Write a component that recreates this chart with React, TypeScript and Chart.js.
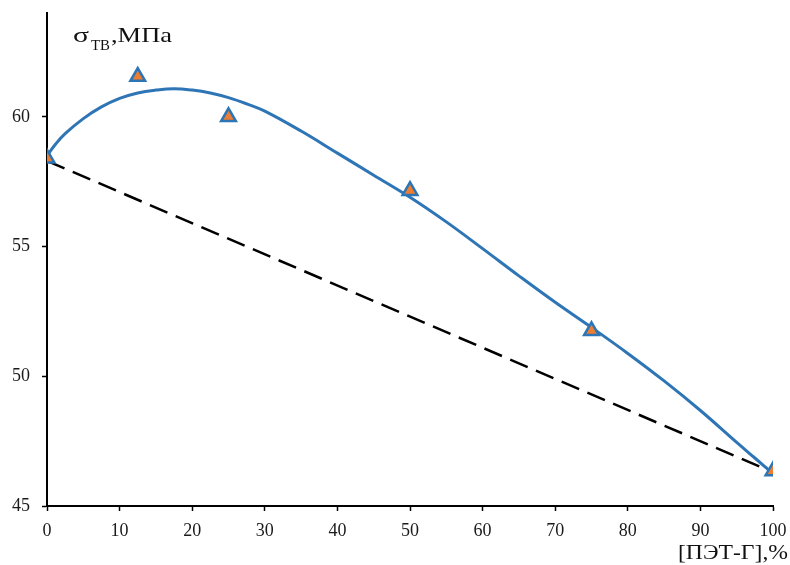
import React, { useEffect, useRef } from "react";
import { Chart, registerables } from "chart.js";

Chart.register(...registerables);

// Measured points: [ПЭТ-Г], % vs σ_тв, MPa
const measuredX = [0, 12.5, 25, 50, 75, 100];
const measuredY = [58.4, 61.55, 60.0, 57.15, 51.75, 46.35];

// Fitted trend curve
const curveX = [0, 1.25, 2.5, 5, 7.5, 10, 12.5, 15, 17.5, 20, 22.5, 25, 27.5, 30, 35, 40, 45, 50, 55, 60, 65, 70, 75, 80, 85, 90, 95, 97.5, 100];
const curveY = [58.5, 58.97, 59.35, 59.93, 60.38, 60.71, 60.92, 61.03, 61.08, 61.03, 60.92, 60.74, 60.5, 60.22, 59.45, 58.6, 57.75, 56.9, 55.95, 54.92, 53.87, 52.85, 51.88, 50.88, 49.82, 48.68, 47.45, 46.85, 46.25];

// Additivity (dashed) line
const additiveX = [0, 100];
const additiveY = [58.3, 46.3];

// Axis ticks
const xTicks = [0, 10, 20, 30, 40, 50, 60, 70, 80, 90, 100];
const yTicks = [45, 50, 55, 60];

const yTitleMain = "σ";
const yTitleSub = "ТВ";
const yTitleTail = ",МПа";
const xTitle = "[ПЭТ-Г],%";

const FONT = "'Liberation Serif', 'Times New Roman', serif";

function drawStretched(ctx: any, text: string, x: number, baseline: number, size: number, width: number) {
  ctx.font = `${size}px ${FONT}`;
  const w = ctx.measureText(text).width;
  const k = width / w;
  ctx.save();
  ctx.translate(x, baseline);
  ctx.scale(k, 1);
  ctx.fillText(text, 0, 0);
  ctx.restore();
}

const titlesPlugin = {
  id: "titles",
  afterDraw(chart: any) {
    const ctx = chart.ctx;
    ctx.save();
    ctx.fillStyle = "#111";
    ctx.textBaseline = "alphabetic";
    ctx.textAlign = "left";
    drawStretched(ctx, yTitleMain, 73, 42, 22, 16);
    drawStretched(ctx, yTitleSub, 91, 50, 15, 19);
    drawStretched(ctx, yTitleTail, 111, 42, 21, 61);
    drawStretched(ctx, xTitle, 678, 559, 21, 110);
    ctx.restore();
  },
};

export default function App() {
  const ref = useRef<HTMLCanvasElement | null>(null);

  useEffect(() => {
    document.body.style.margin = "0";
    const canvas = ref.current;
    if (!canvas) return;
    const chart = new Chart(canvas, {
      type: "scatter",
      data: {
        datasets: [
          {
            label: "measured",
            data: measuredX.map((x, i) => ({ x, y: measuredY[i] })),
            pointStyle: "triangle",
            pointRadius: 8.5,
            pointBackgroundColor: "#ED7D31",
            pointBorderColor: "#2E75B6",
            pointBorderWidth: 2.5,
            showLine: false,
          },
          {
            label: "curve",
            data: curveX.map((x, i) => ({ x, y: curveY[i] })),
            showLine: true,
            borderColor: "#2E75B6",
            borderWidth: 3,
            pointRadius: 0,
            tension: 0.4,
          },
          {
            label: "additive",
            data: additiveX.map((x, i) => ({ x, y: additiveY[i] })),
            showLine: true,
            borderColor: "#000",
            borderWidth: 2.5,
            borderDash: [19, 9],
            pointRadius: 0,
          },
        ],
      },
      options: {
        animation: false,
        responsive: false,
        maintainAspectRatio: false,
        layout: { padding: { top: 13, right: 17, left: 0, bottom: 0 } },
        plugins: {
          legend: { display: false },
          tooltip: { enabled: false },
        },
        scales: {
          x: {
            type: "linear",
            min: 0,
            max: 100,
            afterBuildTicks: (s: any) => {
              s.ticks = xTicks.map((v) => ({ value: v }));
            },
            afterFit: (s: any) => {
              s.height = 59;
              s.paddingLeft = 0;
              s.paddingRight = 0;
            },
            grid: {
              drawOnChartArea: false,
              drawTicks: true,
              tickLength: 5,
              tickColor: "#000",
              tickWidth: 1.5,
            },
            border: { color: "#000", width: 2 },
            ticks: {
              color: "#1a1a1a",
              font: { family: FONT, size: 18 },
              padding: 9,
              maxRotation: 0,
            },
          },
          y: {
            type: "linear",
            min: 45,
            max: 64,
            afterBuildTicks: (s: any) => {
              s.ticks = yTicks.map((v) => ({ value: v }));
            },
            afterFit: (s: any) => {
              s.width = 47;
              s.paddingTop = 0;
              s.paddingBottom = 0;
            },
            grid: {
              drawOnChartArea: false,
              drawTicks: true,
              tickLength: 5,
              tickColor: "#000",
              tickWidth: 1.5,
            },
            border: { color: "#000", width: 2 },
            ticks: {
              color: "#1a1a1a",
              font: { family: FONT, size: 18 },
              padding: 12,
            },
          },
        },
      },
      plugins: [titlesPlugin],
    } as any);
    return () => chart.destroy();
  }, []);

  return (
    <div style={{ width: 790, height: 565, background: "#fff" }}>
      <canvas ref={ref} width={790} height={565} style={{ display: "block" }} />
    </div>
  );
}
